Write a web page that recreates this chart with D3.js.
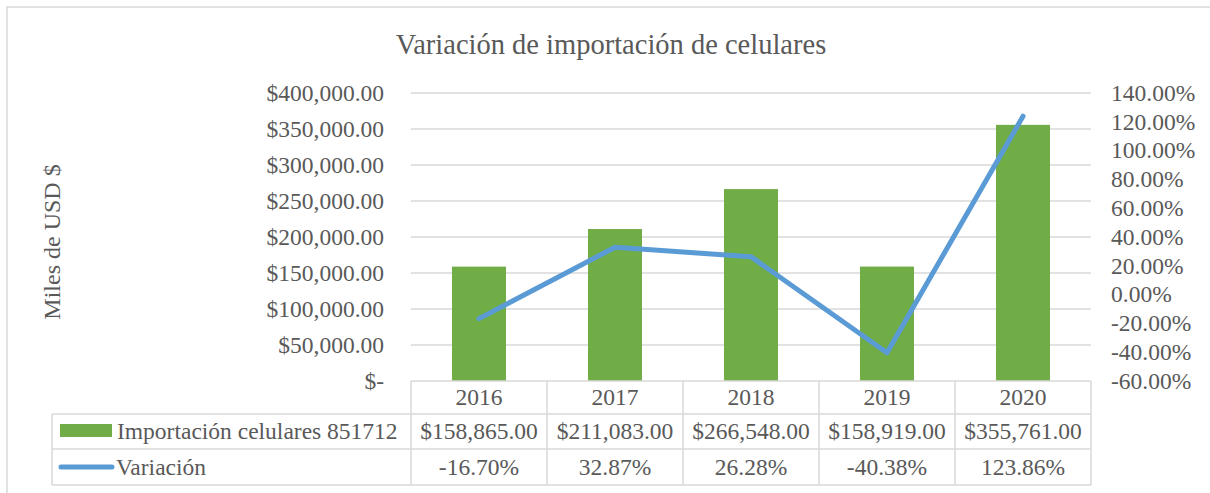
<!DOCTYPE html>
<html>
<head>
<meta charset="utf-8">
<script src="https://cdn.jsdelivr.net/npm/d3@7"></script>
<style>
  body { margin: 0; background: #fff; }
  svg text { font-family: "Times New Roman", "Liberation Serif", Tinos, "DejaVu Serif", serif; fill: #595959; }
</style>
</head>
<body>
<svg width="1210" height="493"></svg>
<script>
// chart values
var years = ["2016", "2017", "2018", "2019", "2020"];
var importaciones = [158865, 211083, 266548, 158919, 355761];
var variacion = [-16.70, 32.87, 26.28, -40.38, 123.86];
var leftTicks = [0, 50000, 100000, 150000, 200000, 250000, 300000, 350000, 400000];
var rightTicks = [-60, -40, -20, 0, 20, 40, 60, 80, 100, 120, 140];
var serieNames = ["Importación celulares 851712", "Variación"];

var svg = d3.select("svg");
var grid = "#d9d9d9";

var x0 = 411, x1 = 1091, yTop = 93, yBot = 381;

// plain hyphen for negatives, like Excel
var loc = d3.formatLocale({decimal: ".", thousands: ",", grouping: [3], currency: ["$", ""], minus: "-"});
var fmtMoney = loc.format(",.2f");
var fmtPct = loc.format(".2f");

// outer chart border (right and bottom edges are off-picture)
svg.append("rect").attr("x", 7).attr("y", 7).attr("width", 1230).attr("height", 520)
  .attr("fill", "none").attr("stroke", grid).attr("stroke-width", 1.5);

// scales
var scX = d3.scaleBand().domain(years).range([x0, x1]);
var scY = d3.scaleLinear().domain([0, 400000]).range([yBot, yTop]);
var scY2 = d3.scaleLinear().domain([-60, 140]).range([yBot, yTop]);

// title
svg.append("text").attr("x", 611).attr("y", 54).attr("text-anchor", "middle")
  .style("font-size", "28.5px").text("Variación de importación de celulares");

// y axis title
svg.append("text").attr("transform", "translate(60,242) rotate(-90)")
  .attr("text-anchor", "middle").style("font-size", "24px").text("Miles de USD $");

// gridlines
svg.append("g").selectAll("line")
  .data(leftTicks.filter(d => d > 0)).enter().append("line")
  .attr("x1", x0).attr("x2", x1)
  .attr("y1", d => scY(d)).attr("y2", d => scY(d))
  .attr("stroke", grid).attr("stroke-width", 1.5);

// left axis labels
svg.append("g").selectAll("text")
  .data(leftTicks).enter().append("text")
  .attr("x", 384).attr("y", d => scY(d))
  .attr("dy", "0.33em").attr("text-anchor", "end")
  .style("font-size", "23.5px")
  .text(d => d === 0 ? "$-" : "$" + fmtMoney(d));

// right axis labels
svg.append("g").selectAll("text")
  .data(rightTicks).enter().append("text")
  .attr("x", 1111).attr("y", d => scY2(d))
  .attr("dy", "0.33em").attr("text-anchor", "start")
  .style("font-size", "23.5px")
  .text(d => fmtPct(d) + "%");

// bars
var barW = 54;
svg.append("g").selectAll("rect")
  .data(importaciones).enter().append("rect")
  .attr("x", (d, i) => scX(years[i]) + scX.bandwidth() / 2 - barW / 2)
  .attr("width", barW)
  .attr("y", d => scY(d))
  .attr("height", d => yBot - scY(d))
  .attr("fill", "#70ad47");

// line on secondary axis
var lineMaker = d3.line()
  .x((d, i) => scX(years[i]) + scX.bandwidth() / 2)
  .y(d => scY2(d));
svg.append("path")
  .attr("d", lineMaker(variacion))
  .attr("fill", "none").attr("stroke", "#5b9bd5")
  .attr("stroke-width", 5).attr("stroke-linecap", "round").attr("stroke-linejoin", "round");

// data table
var rowY = [381, 414, 449, 485];
var legL = 52;
var tbl = svg.append("g").attr("stroke", grid).attr("stroke-width", 1.5);
tbl.append("line").attr("x1", x0).attr("x2", x1).attr("y1", rowY[0]).attr("y2", rowY[0]);
rowY.slice(1).forEach(function(y) {
  tbl.append("line").attr("x1", legL).attr("x2", x1).attr("y1", y).attr("y2", y);
});
var colX = years.map(d => scX(d)).concat([x1]);
colX.forEach(function(x) {
  tbl.append("line").attr("x1", x).attr("x2", x).attr("y1", rowY[0]).attr("y2", rowY[3]);
});
tbl.append("line").attr("x1", legL).attr("x2", legL).attr("y1", rowY[1]).attr("y2", rowY[3]);

var cellFont = "23.5px";
function cellRow(vals, r, fmt) {
  svg.append("g").selectAll("text")
    .data(vals).enter().append("text")
    .attr("x", (d, i) => scX(years[i]) + scX.bandwidth() / 2)
    .attr("y", (rowY[r] + rowY[r + 1]) / 2)
    .attr("dy", "0.33em").attr("text-anchor", "middle")
    .style("font-size", cellFont)
    .text(fmt);
}
cellRow(years, 0, d => d);
cellRow(importaciones, 1, d => "$" + fmtMoney(d));
cellRow(variacion, 2, d => fmtPct(d) + "%");

// legend keys in the table
svg.append("rect").attr("x", 60).attr("y", 424).attr("width", 52).attr("height", 13).attr("fill", "#70ad47");
svg.append("line").attr("x1", 61).attr("x2", 112).attr("y1", 467).attr("y2", 467)
  .attr("stroke", "#5b9bd5").attr("stroke-width", 5).attr("stroke-linecap", "round");
svg.append("g").selectAll("text")
  .data(serieNames).enter().append("text")
  .attr("x", (d, i) => i === 0 ? 117 : 116)
  .attr("y", (d, i) => (rowY[i + 1] + rowY[i + 2]) / 2)
  .attr("dy", "0.33em")
  .style("font-size", cellFont)
  .text(d => d);
</script>
</body>
</html>
